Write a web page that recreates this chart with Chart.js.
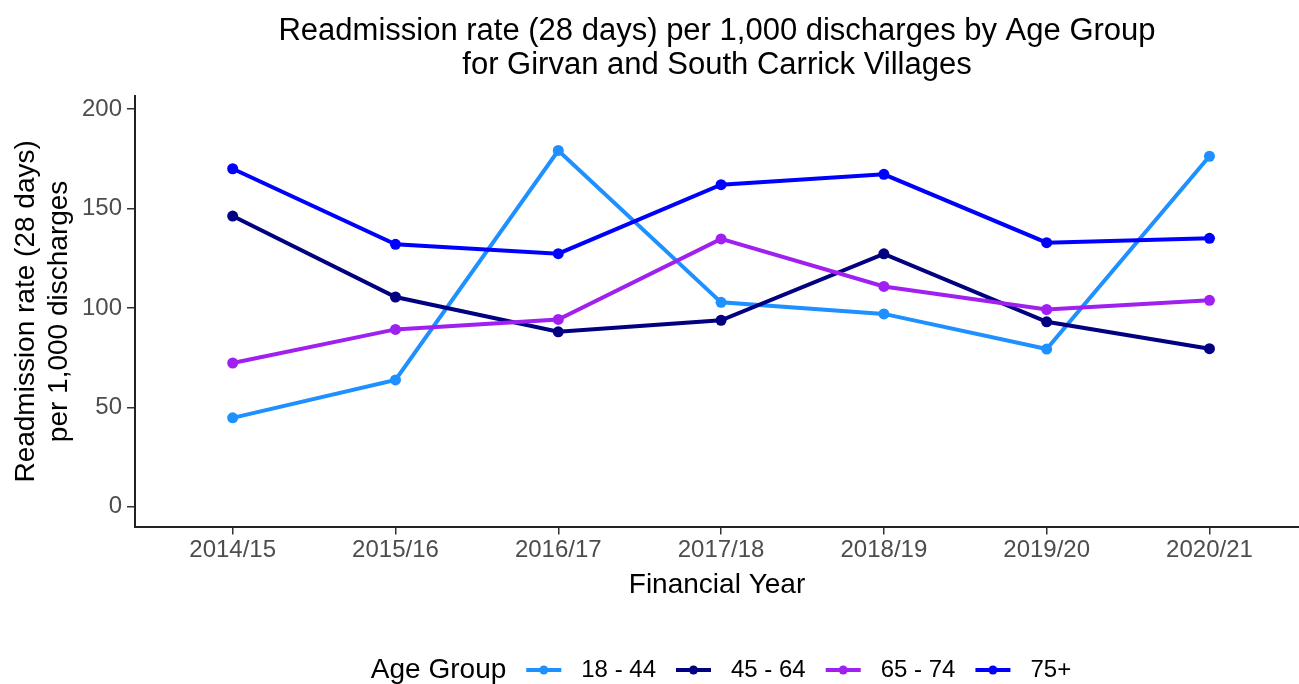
<!DOCTYPE html>
<html>
<head>
<meta charset="utf-8">
<script src="https://cdn.jsdelivr.net/npm/chart.js@4"></script>
<style>
  html, body { margin: 0; padding: 0; background: #fff; overflow: hidden; }
</style>
</head>
<body>
<canvas id="myChart" width="1299" height="684"></canvas>
<script>
const years = ['2014/15', '2015/16', '2016/17', '2017/18', '2018/19', '2019/20', '2020/21'];
const age18to44 = [44.7, 63.8, 179.2, 102.8, 97, 79.3, 176.3];
const age45to64 = [146.2, 105.5, 88, 93.8, 127.2, 93, 79.5];
const age65to74 = [72.3, 89.2, 94.2, 134.7, 110.8, 99.2, 103.8];
const age75plus = [170, 132, 127.3, 162, 167.2, 132.8, 135];
const groups = ['18 - 44', '45 - 64', '65 - 74', '75+'];
const colours = ['#1E90FF', '#000080', '#A020F0', '#0000FF'];
const yTicks = [0, 50, 100, 150, 200];

const FONT = "'Liberation Sans', Arial, sans-serif";
Chart.defaults.font.family = FONT;

function series(values, i) {
    return {
        label: groups[i],
        data: values.map((v, j) => ({ x: j, y: v })),
        borderColor: colours[i],
        backgroundColor: colours[i],
        borderWidth: 4,
        pointRadius: 5.5,
        pointHoverRadius: 5.5,
        pointBorderWidth: 0,
        order: 4 - i,
        fill: false,
        tension: 0
    };
}

// ggplot style legend: title on the left, keys in one row
const ageLegend = {
    id: 'ageLegend',
    afterDraw(chart) {
        const ctx = chart.ctx;
        const area = chart.chartArea;
        const y = chart.height - 14;
        const keyW = 35, gap = 20;
        ctx.save();
        ctx.textBaseline = 'middle';
        ctx.font = '28px ' + FONT;
        const titleW = ctx.measureText('Age Group').width;
        ctx.font = '24px ' + FONT;
        const labelW = groups.map(g => ctx.measureText(g).width);
        const total = titleW + gap + labelW.reduce((a, w) => a + keyW + gap + w, 0) + gap * (groups.length - 1);
        let x = (area.left + area.right) / 2 + 4 - total / 2;
        ctx.fillStyle = '#000';
        ctx.font = '28px ' + FONT;
        ctx.fillText('Age Group', x, y);
        x += titleW + gap;
        ctx.font = '24px ' + FONT;
        chart.data.datasets.forEach((ds, i) => {
            ctx.strokeStyle = ds.borderColor;
            ctx.lineWidth = ds.borderWidth;
            ctx.beginPath();
            ctx.moveTo(x, y);
            ctx.lineTo(x + keyW, y);
            ctx.stroke();
            ctx.fillStyle = ds.backgroundColor;
            ctx.beginPath();
            ctx.arc(x + keyW / 2, y, 4.5, 0, Math.PI * 2);
            ctx.fill();
            x += keyW + gap;
            ctx.fillStyle = '#000';
            ctx.fillText(ds.label, x, y);
            x += labelW[i] + gap;
        });
        ctx.restore();
    }
};

const axisGrid = { display: true, drawOnChartArea: false, drawTicks: true, tickLength: 8, color: '#333', lineWidth: 1.5 };
const axisBorder = { display: true, color: '#222', width: 2 };

const ctx = document.getElementById('myChart').getContext('2d');
new Chart(ctx, {
    type: 'line',
    data: {
        datasets: [age18to44, age45to64, age65to74, age75plus].map(series)
    },
    options: {
        responsive: false,
        animation: false,
        layout: { autoPadding: false, padding: { left: 0, right: 0, top: 0, bottom: 82 } },
        plugins: {
            legend: { display: false },
            tooltip: { enabled: false },
            title: {
                display: true,
                fullSize: false,
                text: ['Readmission rate (28 days) per 1,000 discharges by Age Group',
                       'for Girvan and South Carrick Villages'],
                color: '#000',
                font: { size: 31, weight: 'normal', lineHeight: 1.1 },
                padding: { top: 14, bottom: 14 }
            }
        },
        scales: {
            x: {
                type: 'linear',
                min: -0.6,
                max: 6.55,
                afterBuildTicks: s => { s.ticks = years.map((_, i) => ({ value: i })); },
                ticks: {
                    callback: v => years[v],
                    color: '#4d4d4d',
                    font: { size: 24 },
                    padding: 1,
                    maxRotation: 0,
                    autoSkip: false
                },
                grid: axisGrid,
                border: axisBorder,
                title: {
                    display: true,
                    text: 'Financial Year',
                    color: '#000',
                    font: { size: 28, lineHeight: 1.2 },
                    padding: { top: 3, bottom: 0 }
                }
            },
            y: {
                min: -10,
                max: 206.5,
                afterBuildTicks: s => { s.ticks = yTicks.map(v => ({ value: v })); },
                afterFit: s => { s.width = 135; },
                ticks: {
                    color: '#4d4d4d',
                    font: { size: 24 },
                    padding: 5
                },
                grid: axisGrid,
                border: axisBorder,
                title: {
                    display: true,
                    text: ['Readmission rate (28 days)', 'per 1,000 discharges'],
                    color: '#000',
                    font: { size: 28, lineHeight: 1.18 },
                    padding: { top: 10, bottom: 4 }
                }
            }
        }
    },
    plugins: [ageLegend]
});
</script>
</body>
</html>
